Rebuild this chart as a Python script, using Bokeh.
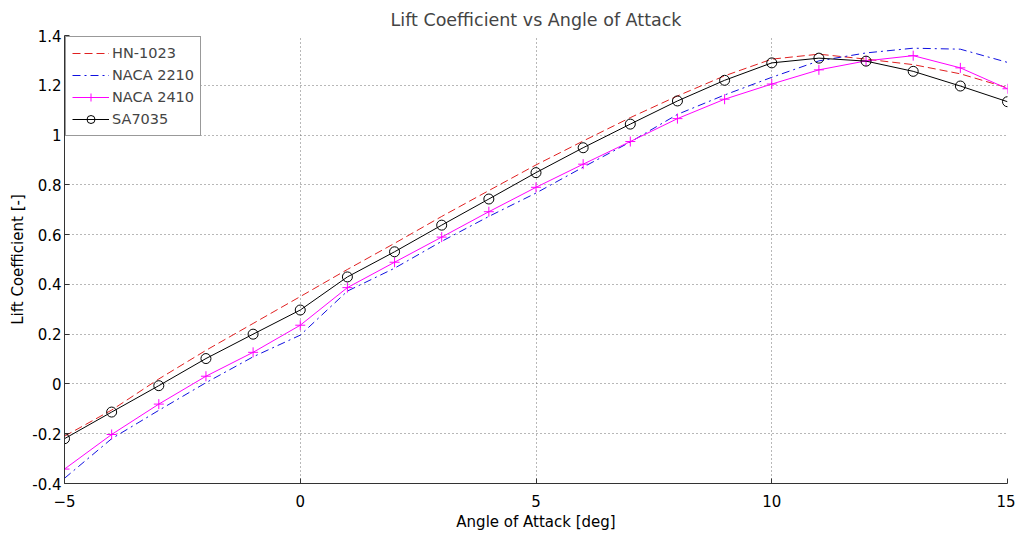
from bokeh.plotting import figure
from bokeh.models import Range1d, FixedTicker, NumeralTickFormatter, Legend, LegendItem, Title
from bokeh.embed import file_html
from bokeh.resources import INLINE

alpha = [-5, -4, -3, -2, -1, 0, 1, 2, 3, 4, 5, 6, 7, 8, 9, 10, 11, 12, 13, 14, 15]
hn1023 = [-0.21, -0.105, 0.02, 0.135, 0.243, 0.351, 0.46, 0.565, 0.673, 0.777, 0.88,
          0.976, 1.07, 1.157, 1.238, 1.305, 1.325, 1.305, 1.283, 1.246, 1.19]
naca2210 = [-0.379, -0.22, -0.106, 0.005, 0.109, 0.196, 0.373, 0.465, 0.573, 0.673, 0.767,
            0.871, 0.972, 1.083, 1.161, 1.232, 1.298, 1.33, 1.349, 1.345, 1.292]
naca2410 = [-0.342, -0.203, -0.081, 0.031, 0.127, 0.236, 0.387, 0.489, 0.59, 0.692, 0.79,
            0.883, 0.974, 1.066, 1.144, 1.205, 1.262, 1.298, 1.319, 1.27, 1.186]
sa7035 = [-0.22, -0.113, -0.007, 0.102, 0.2, 0.297, 0.43, 0.531, 0.638, 0.743, 0.849,
          0.949, 1.044, 1.137, 1.22, 1.29, 1.309, 1.297, 1.256, 1.197, 1.134]

x_ticks = [-5, 0, 5, 10, 15]
y_ticks = [-0.4, -0.2, 0, 0.2, 0.4, 0.6, 0.8, 1, 1.2, 1.4]

FONT = "DejaVu Sans"

p = figure(frame_width=943, frame_height=448, x_range=Range1d(-5, 15), y_range=Range1d(-0.4, 1.4),
           output_backend="svg", toolbar_location=None,
           min_border_left=64, min_border_right=8, min_border_top=35, min_border_bottom=47)
p.outline_line_color = None
p.background_fill_color = "white"

t = Title(text="Lift Coefficient vs Angle of Attack", align="center",
          text_font=FONT, text_font_size="17.5px", text_font_style="normal", standoff=12)
p.add_layout(t, "above")

for ax in (p.xaxis[0], p.yaxis[0]):
    ax.major_tick_in = 5
    ax.major_tick_out = 0
    ax.minor_tick_line_color = None
    ax.axis_line_color = "#333333"
    ax.major_tick_line_color = "#333333"
    ax.major_label_text_font = FONT
    ax.major_label_text_font_size = "15px"
    ax.major_label_text_color = "black"
    ax.axis_label_text_font = FONT
    ax.axis_label_text_font_size = "15px"
    ax.axis_label_text_font_style = "normal"
    ax.axis_label_text_color = "black"

p.xaxis.ticker = FixedTicker(ticks=x_ticks)
p.yaxis.ticker = FixedTicker(ticks=y_ticks)
p.yaxis.formatter = NumeralTickFormatter(format="0.[0]")
p.xaxis.axis_label = "Angle of Attack [deg]"
p.yaxis.axis_label = "Lift Coefficient [-]"
p.xaxis.major_label_standoff = 11
p.xaxis.axis_label_standoff = 3
p.yaxis.major_label_standoff = 3
p.yaxis.axis_label_standoff = 2

for g in (p.xgrid, p.ygrid):
    g.grid_line_color = "#707070"
    g.grid_line_dash = "1 3"
    g.grid_line_width = 1

r_hn = p.line(alpha, hn1023, line_color="#e02020", line_dash="8 4", line_width=1)
r_2210 = p.line(alpha, naca2210, line_color="#1010e0", line_dash="8 4 2 4", line_width=1)
r_2410 = p.line(alpha, naca2410, line_color="#ff00ff", line_width=1)
r_2410m = p.scatter(alpha, naca2410, marker="cross", size=10, line_color="#ff00ff", line_width=1)
r_sa = p.line(alpha, sa7035, line_color="black", line_width=1)
r_sam = p.scatter(alpha, sa7035, marker="circle", size=10, fill_color=None,
                  line_color="black", line_width=1)

legend = Legend(items=[
    LegendItem(label="HN-1023", renderers=[r_hn]),
    LegendItem(label="NACA 2210", renderers=[r_2210]),
    LegendItem(label="NACA 2410", renderers=[r_2410, r_2410m]),
    LegendItem(label="SA7035", renderers=[r_sa, r_sam]),
], location="top_left")
legend.margin = 1
legend.padding = 6
legend.spacing = 2
legend.glyph_width = 37
legend.glyph_height = 20
legend.label_height = 20
legend.label_standoff = 3
legend.label_text_font = FONT
legend.label_text_font_size = "14.5px"
legend.border_line_color = "#333333"
legend.border_line_width = 1
legend.background_fill_color = "white"
legend.background_fill_alpha = 1
p.add_layout(legend, "center")

open("out.html", "w").write(file_html(p, INLINE))
